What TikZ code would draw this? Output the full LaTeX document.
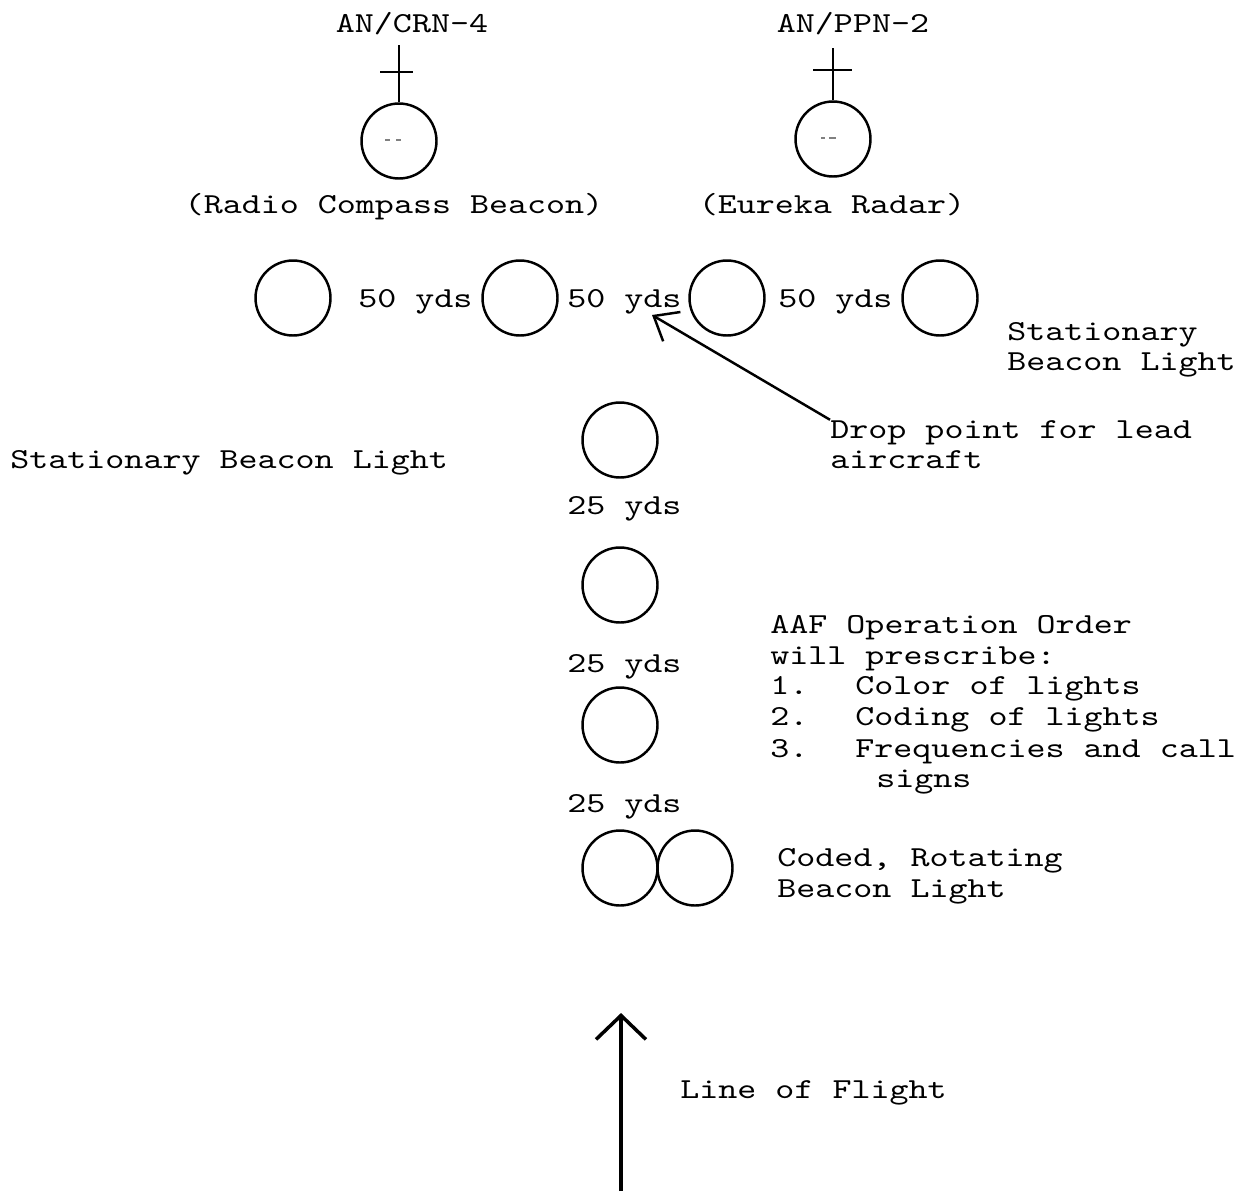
\documentclass[tikz,border=0pt]{standalone}
\usepackage{fontspec}
\newfontfamily\tw{lmmono10-regular.otf}[FakeStretch=1.25]
\usetikzlibrary{arrows.meta}
\tikzset{
  txt/.style={font={\fontsize{16.5}{16.5}\selectfont\tw}, inner sep=0pt, anchor=base west},
  ctxt/.style={txt, anchor=base},
  beacon/.style={circle, draw, line width=1.4pt, minimum size=1.5cm, inner sep=0pt},
  mast/.style={line width=1.2pt},
  speck/.style={line width=0.6pt, gray},
}
\begin{document}
\begin{tikzpicture}[x=0.02cm,y=-0.02cm]
\useasboundingbox (0,0) rectangle (1247,1191);

% radio beacons with antennas
\node[ctxt] (crn) at (412,32) {AN/CRN-4};
\node[ctxt] (ppn) at (853,32) {AN/PPN-2};
\node[beacon] (rc) at (399,141) {};
\node[beacon] (er) at (833,139) {};
\coordinate (rctop) at (399,45);
\coordinate (ertop) at (833,48);
\draw[mast] (rc.north) -- (rctop);
\draw[mast] (380,72) -- (413,72);
\draw[mast] (er.north) -- (ertop);
\draw[mast] (813,70) -- (852,70);
\draw[speck] (385,140) -- (390,140) (396,140) -- (401,140);
\draw[speck] (821,138) -- (825,138) (829,138) -- (836,138);
\node[ctxt] (rcl) at (394,213) {(Radio Compass Beacon)};
\node[ctxt] (erl) at (832,213) {(Eureka Radar)};

% row of stationary beacon lights
\node[beacon] (s1) at (293,298) {};
\node[beacon] (s2) at (520,298) {};
\node[beacon] (s3) at (727,298) {};
\node[beacon] (s4) at (940,298) {};
\node[txt] (d1) at (358,307) {50 yds};
\node[txt] (d2) at (567,307) {50 yds};
\node[txt] (d3) at (778,307) {50 yds};
\node[txt] (st1) at (1007,340) {Stationary};
\node[txt] (st2) at (1007,370) {Beacon Light};

% drop point
\node[txt] (drop) at (830,438) {Drop point for lead};
\node[txt] (drop2) at (830,468) {aircraft};
\coordinate (dp) at (652,315);
\draw[line width=1.4pt, -{Straight Barb[length=0.42cm,width=0.68cm,line width=1.4pt]}] (drop.north west) -- (dp);

\node[txt] (stl) at (10,468) {Stationary Beacon Light};

% column of lights
\node[beacon] (c1) at (620,440) {};
\node[beacon] (c2) at (620,585) {};
\node[beacon] (c3) at (620,725) {};
\node[beacon] (c4) at (620,868) {};
\node[beacon] (c5) at (695,868) {};
\node[txt] (y1) at (567,514) {25 yds};
\node[txt] (y2) at (567,672) {25 yds};
\node[txt] (y3) at (567,812) {25 yds};

% order text
\node[txt] (o1) at (770,633) {AAF Operation Order};
\node[txt] (o2) at (770,664) {will prescribe:};
\node[txt] (n1) at (770,694) {1.};
\node[txt] (i1) at (855,694) {Color of lights};
\node[txt] (n2) at (770,725) {2.};
\node[txt] (i2) at (855,725) {Coding of lights};
\node[txt] (n3) at (770,757) {3.};
\node[txt] (i3) at (855,757) {Frequencies and call};
\node[txt] (i3b) at (876,787) {signs};

\node[txt] (cr1) at (777,866) {Coded, Rotating};
\node[txt] (cr2) at (777,897) {Beacon Light};

% line of flight
\coordinate (lfb) at (621,1191);
\coordinate (lft) at (621,1013);
\draw[line width=2pt, -{Straight Barb[length=0.48cm,width=1.0cm,line width=2pt]}] (lfb) -- (lft);
\node[txt] (lof) at (680,1098) {Line of Flight};
\end{tikzpicture}
\end{document}
